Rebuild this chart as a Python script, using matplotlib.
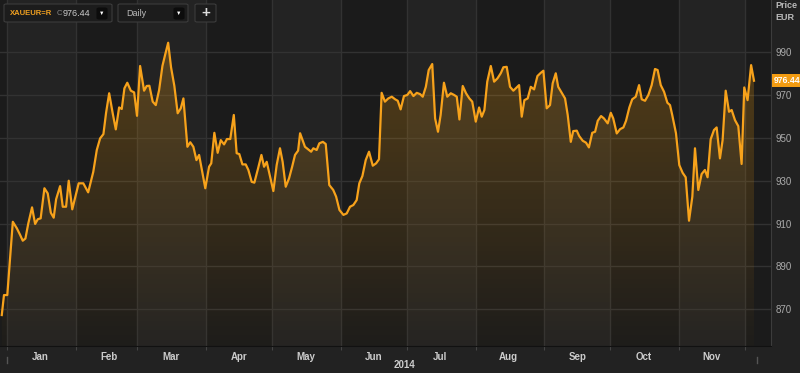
import pandas as pd
import numpy as np
import matplotlib
matplotlib.use('Agg')
import matplotlib.pyplot as plt
import matplotlib.dates as mdates
import matplotlib.transforms as mtransforms
from matplotlib.patches import FancyBboxPatch

# XAUEUR=R daily close, 2014
# days counted from 2014-01-01
day_offsets = [
    -2.4, -1.4, 0.1, 2.6, 4.4, 5.9, 7.1, 8.3, 9.6, 11.3,
    12.7, 13.9, 15.2, 16.9, 18.4, 19.8, 21.1, 22.2, 24.0, 25.2,
    26.7, 27.9, 29.5, 32.4, 34.5, 36.7, 39.0, 40.6, 42.1, 43.6,
    44.8, 46.2, 47.8, 49.2, 50.7, 51.9, 53.1, 54.4, 56.0, 57.5,
    58.8, 60.2, 62.0, 63.2, 64.4, 65.9, 67.3, 68.8, 70.3, 71.5,
    72.9, 74.2, 75.7, 77.2, 78.6, 79.8, 81.6, 82.9, 84.3, 85.7,
    86.9, 89.7, 91.4, 92.4, 93.8, 95.3, 96.7, 98.2, 99.5, 101.0,
    102.6, 103.9, 105.1, 106.5, 108.0, 109.2, 110.7, 111.9, 113.6, 115.1,
    116.3, 117.5, 119.0, 120.5, 122.0, 123.5, 124.7, 126.1, 127.6, 129.0,
    130.3, 131.7, 132.6, 134.8, 136.3, 137.6, 138.6, 140.1, 141.3, 142.9,
    144.2, 145.8, 147.6, 148.9, 150.4, 152.2, 153.7, 155.2, 156.7, 158.2,
    159.4, 160.8, 162.3, 163.8, 165.5, 167.0, 168.3, 169.5, 171.0, 172.5,
    174.1, 175.6, 176.8, 178.1, 179.6, 181.1, 182.4, 183.9, 185.4, 186.9,
    188.1, 189.5, 190.8, 192.4, 193.7, 195.0, 196.2, 197.7, 199.2, 200.8,
    202.3, 203.5, 204.7, 206.2, 207.7, 209.2, 210.5, 212.1, 213.6, 214.8,
    216.0, 217.3, 218.9, 220.4, 221.9, 223.4, 224.6, 226.1, 227.6, 229.1,
    230.6, 231.7, 232.9, 234.1, 235.6, 237.0, 238.5, 240.0, 241.5, 242.7,
    244.2, 245.7, 246.9, 248.3, 249.4, 251.0, 252.5, 253.7, 255.1, 256.2,
    257.8, 258.9, 260.5, 262.0, 263.3, 264.8, 266.1, 267.3, 268.8, 270.1,
    271.8, 273.2, 274.3, 275.9, 277.4, 278.9, 280.1, 281.6, 282.9, 284.5,
    286.0, 287.2, 288.7, 290.2, 291.7, 293.2, 294.4, 295.8, 297.3, 298.8,
    300.0, 301.0, 302.7, 304.2, 305.7, 307.1, 308.6, 310.1, 311.3, 312.8,
    314.3, 315.8, 317.0, 318.4, 319.9, 321.1, 322.6, 323.8, 325.2, 326.7,
    327.9, 329.4, 330.9, 332.4, 333.6, 335.1, 336.7, 338.0]

prices = [
    867.4, 876.7, 876.7, 910.8, 907.8, 904.7, 902.0, 903.0, 910.0, 917.5,
    909.8, 912.0, 912.4, 926.4, 924.0, 915.0, 912.7, 921.3, 927.4, 917.8,
    917.8, 929.9, 916.6, 928.7, 928.7, 924.5, 934.0, 944.2, 949.6, 951.6,
    961.5, 970.6, 961.3, 953.8, 964.0, 963.3, 972.9, 975.5, 971.8, 971.0,
    960.1, 983.3, 971.8, 974.0, 974.1, 966.7, 965.1, 972.1, 983.3, 988.4,
    994.1, 982.7, 974.0, 961.3, 963.6, 968.2, 945.7, 947.8, 945.7, 939.5,
    941.9, 926.4, 936.4, 938.0, 952.2, 942.9, 948.8, 946.8, 949.3, 949.3,
    960.5, 942.7, 942.3, 937.5, 937.5, 934.9, 929.4, 929.0, 935.7, 941.9,
    936.4, 938.7, 931.8, 925.1, 937.2, 945.0, 938.7, 927.1, 931.0, 936.4,
    941.9, 943.9, 952.0, 945.7, 944.5, 943.4, 945.0, 944.2, 947.3, 948.0,
    947.0, 927.9, 925.6, 922.5, 916.3, 914.0, 914.7, 917.8, 918.6, 920.9,
    928.7, 932.1, 939.5, 943.4, 936.9, 938.0, 939.9, 970.8, 966.7, 968.2,
    969.0, 967.8, 967.1, 963.1, 969.3, 969.8, 971.6, 969.3, 970.8, 970.2,
    969.0, 973.6, 981.4, 984.2, 958.9, 952.7, 960.5, 975.5, 969.0, 970.6,
    969.8, 969.0, 958.4, 974.0, 970.6, 968.2, 966.7, 957.4, 964.0, 959.7,
    962.8, 976.0, 983.3, 976.0, 977.5, 979.9, 982.7, 982.9, 973.6, 971.8,
    973.3, 974.4, 959.7, 967.4, 968.2, 973.6, 972.4, 978.6, 980.1, 981.1,
    963.6, 965.1, 975.2, 979.9, 973.6, 970.8, 968.2, 960.5, 948.0, 953.0,
    953.2, 950.7, 948.5, 947.6, 945.4, 952.2, 952.7, 957.8, 960.0, 958.9,
    956.6, 961.5, 958.9, 951.9, 953.9, 954.7, 957.8, 964.0, 967.8, 969.0,
    974.4, 967.8, 967.1, 969.8, 974.4, 981.9, 981.4, 974.4, 971.3, 966.2,
    965.1, 960.5, 952.0, 937.2, 933.6, 931.5, 911.3, 922.5, 945.0, 925.6,
    933.0, 934.9, 931.5, 949.2, 953.5, 954.7, 940.3, 948.8, 971.8, 962.0,
    962.8, 958.1, 955.3, 937.7, 973.3, 967.4, 983.7, 976.44]

y_ticks = [870, 890, 910, 930, 950, 970, 990]
ric = 'XAUEUR=R'
interval = 'Daily'

start = pd.Timestamp('2014-01-01')
dates = mdates.date2num((start + pd.to_timedelta(day_offsets, unit='D')).to_pydatetime())
month_starts = pd.date_range('2014-01-01', '2014-12-01', freq='MS')
ms = mdates.date2num(month_starts.to_pydatetime())

x0 = mdates.date2num(start) - 3.2
x1 = mdates.date2num(start) + 345.7
y0, y1 = 853, 1014

plt.rcParams['font.family'] = ['Liberation Sans', 'DejaVu Sans']

fig = plt.figure(figsize=(8, 3.73), dpi=100, facecolor='#222222')
ax = fig.add_axes([0, 27 / 373, 771 / 800, 346 / 373])
ax.set_facecolor('#1b1b1b')

# alternating month bands
for i in range(0, len(ms) - 1, 2):
    ax.axvspan(ms[i], ms[i + 1], color='#232323', lw=0, zorder=0)

# grid
for m in ms:
    ax.axvline(m, color='#323232', lw=1, zorder=1)
for t in y_ticks:
    ax.axhline(t, color='#323232', lw=1, zorder=1)

# gradient fill under the line
poly = ax.fill_between(dates, prices, y0, facecolor='none', edgecolor='none')
grad = np.zeros((256, 1, 4))
grad[:, 0, 0] = 0.96
grad[:, 0, 1] = 0.63
grad[:, 0, 2] = 0.06
grad[:, 0, 3] = np.linspace(0.27, 0.015, 256)
img = ax.imshow(grad, extent=[x0, x1, y0, 995], aspect='auto', origin='upper', zorder=2)
img.set_clip_path(poly.get_paths()[0], transform=ax.transData)

ax.plot(dates, prices, color='#f7a21b', lw=1.6, zorder=3, solid_joinstyle='round')

ax.set_xlim(x0, x1)
ax.set_ylim(y0, y1)

# axes styling
for s in ['top', 'left']:
    ax.spines[s].set_visible(False)
ax.spines['right'].set_color('#3c3c3c')
ax.spines['bottom'].set_color('#111111')

ax.yaxis.tick_right()
ax.set_yticks(y_ticks)
ax.tick_params(axis='y', length=0, pad=3, labelsize=7, labelcolor='#aaaaaa')

ax.xaxis.set_major_locator(mdates.MonthLocator())
ax.xaxis.set_major_formatter(plt.NullFormatter())
ax.xaxis.set_minor_locator(mdates.MonthLocator(bymonthday=16))
ax.xaxis.set_minor_formatter(mdates.DateFormatter('%b'))
ax.tick_params(axis='x', which='major', length=3, color='#444444')
ax.tick_params(axis='x', which='minor', length=0, pad=4, labelsize=7, labelcolor='#cccccc')
for lab in ax.get_xticklabels(minor=True):
    lab.set_fontweight('bold')

# year span marks and label
trans = mtransforms.blended_transform_factory(ax.transData, ax.transAxes)
for xm in [mdates.date2num(start), dates[-1] + 1.5]:
    ax.plot([xm, xm], [-0.033, -0.05], color='#555555', lw=1, transform=trans, clip_on=False)
ax.text(ms[6] - 1, -0.04, '2014', transform=trans, ha='center', va='top',
        fontsize=7, fontweight='bold', color='#cccccc')

# last price box
ax.text(1.004, prices[-1], f'{prices[-1]:.2f}',
        transform=mtransforms.blended_transform_factory(ax.transAxes, ax.transData),
        ha='left', va='center', fontsize=6.2, fontweight='bold', color='white',
        bbox=dict(boxstyle='square,pad=0.25', fc='#f39c12', ec='none'), clip_on=False)

fig.text(775 / 800, 1 - 6 / 373, 'Price', fontsize=6.5, fontweight='bold', color='#bbbbbb', va='center')
fig.text(775 / 800, 1 - 17 / 373, 'EUR', fontsize=6.5, fontweight='bold', color='#bbbbbb', va='center')


# toolbar boxes in the top-left corner
def box(xa, ya, xb, yb, fc, ec):
    p = FancyBboxPatch((xa / 800, 1 - yb / 373), (xb - xa) / 800, (yb - ya) / 373,
                       boxstyle='round,pad=0,rounding_size=0.003', transform=fig.transFigure,
                       fc=fc, ec=ec, lw=0.8, zorder=10)
    fig.add_artist(p)


box(4, 4, 112, 22, '#1c1c1c', '#3c3c3c')
fig.text(10 / 800, 1 - 13.5 / 373, ric, fontsize=5.5, fontweight='bold', color='#f0a020', va='center', zorder=11)
fig.text(57 / 800, 1 - 13.5 / 373, 'C', fontsize=5.5, color='#888888', va='center', zorder=11)
fig.text(63 / 800, 1 - 13.5 / 373, f'{prices[-1]:.2f}', fontsize=6.5, color='#cccccc', va='center', zorder=11)
box(97, 8, 107, 19, '#0c0c0c', '#0c0c0c')
fig.text(102 / 800, 1 - 13.5 / 373, '▼', fontsize=4, color='white', ha='center', va='center', zorder=11)

box(118, 4, 188, 22, '#1c1c1c', '#3c3c3c')
fig.text(126 / 800, 1 - 13.5 / 373, interval, fontsize=6.5, color='#bbbbbb', va='center', zorder=11)
box(174, 8, 184, 19, '#0c0c0c', '#0c0c0c')
fig.text(179 / 800, 1 - 13.5 / 373, '▼', fontsize=4, color='white', ha='center', va='center', zorder=11)

box(195, 4, 216, 22, '#1c1c1c', '#3c3c3c')
fig.text(205.5 / 800, 1 - 13 / 373, '+', fontsize=11, fontweight='bold', color='#dddddd',
         ha='center', va='center', zorder=11)

fig.savefig('out.png', dpi=100, facecolor=fig.get_facecolor())
